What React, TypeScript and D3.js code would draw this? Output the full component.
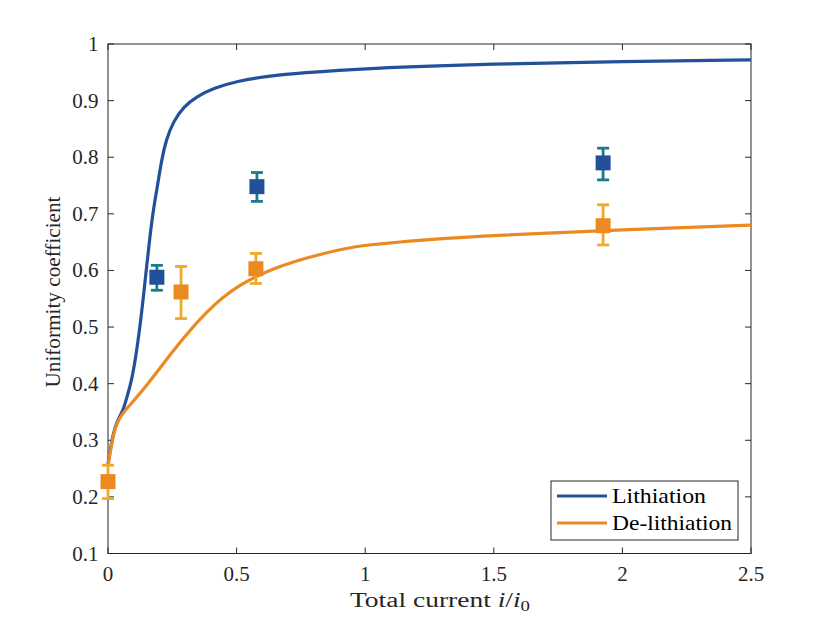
import React from "react";
import * as d3 from "d3";

const xTicks = [0, 0.5, 1, 1.5, 2, 2.5];
const xTickLabels = ["0", "0.5", "1", "1.5", "2", "2.5"];
const yTicks = [0.1, 0.2, 0.3, 0.4, 0.5, 0.6, 0.7, 0.8, 0.9, 1];
const yTickLabels = ["0.1", "0.2", "0.3", "0.4", "0.5", "0.6", "0.7", "0.8", "0.9", "1"];

const lithCurveX = [0, 0.021, 0.04, 0.05, 0.06, 0.075, 0.092, 0.108, 0.124, 0.137, 0.15, 0.163, 0.176, 0.188, 0.196, 0.209, 0.226, 0.254, 0.293, 0.345, 0.41, 0.507, 0.62, 0.75, 1, 1.5, 2, 2.5];
const lithCurveY = [0.258, 0.317, 0.337, 0.346, 0.355, 0.378, 0.406, 0.447, 0.5, 0.55, 0.606, 0.66, 0.706, 0.738, 0.76, 0.796, 0.831, 0.863, 0.889, 0.907, 0.922, 0.935, 0.943, 0.949, 0.957, 0.965, 0.969, 0.972];

const delithCurveX = [0, 0.02, 0.04, 0.08, 0.124, 0.19, 0.254, 0.384, 0.513, 0.656, 0.786, 0.9, 1, 1.25, 1.5, 2, 2.5];
const delithCurveY = [0.255, 0.31, 0.338, 0.36, 0.382, 0.42, 0.459, 0.53, 0.577, 0.606, 0.624, 0.637, 0.645, 0.655, 0.662, 0.672, 0.68];

const lithPtX = [0.19, 0.579, 1.925];
const lithPtY = [0.588, 0.748, 0.79];
const lithErrLo = [0.565, 0.722, 0.76];
const lithErrHi = [0.609, 0.773, 0.816];

const delithPtX = [0, 0.284, 0.575, 1.925];
const delithPtY = [0.227, 0.562, 0.603, 0.679];
const delithErrLo = [0.197, 0.515, 0.577, 0.645];
const delithErrHi = [0.256, 0.607, 0.63, 0.716];

const seriesNames = ["Lithiation", "De-lithiation"];

const BLUE = "#22509b";
const ORANGE = "#ec8a22";
const BLUE_ERR = "#1b7a8e";
const ORANGE_ERR = "#eeaa2a";
const AXIS = "#262626";
const FONT = "'Liberation Serif', 'DejaVu Serif', serif";

export default function App() {
  const W = 830, H = 622;
  const left = 108, right = 751, top = 44, bottom = 553.5;
  const x = d3.scaleLinear().domain([0, 2.5]).range([left, right]);
  const y = d3.scaleLinear().domain([0.1, 1]).range([bottom, top]);

  const line = d3.line<[number, number]>()
    .x((d) => x(d[0]))
    .y((d) => y(d[1]))
    .curve(d3.curveBasis);

  const lithPath = line(lithCurveX.map((v, i) => [v, lithCurveY[i]] as [number, number])) || "";
  const delithPath = line(delithCurveX.map((v, i) => [v, delithCurveY[i]] as [number, number])) || "";

  const tickLen = 6;
  const cap = 6;
  const ms = 15;

  const errBars = (xs: number[], lo: number[], hi: number[], color: string, key: string) =>
    xs.map((v, i) => {
      const cx = x(v);
      return (
        <g key={key + i} stroke={color} strokeWidth={2.8} fill="none">
          <line x1={cx} x2={cx} y1={y(lo[i])} y2={y(hi[i])} />
          <line x1={cx - cap} x2={cx + cap} y1={y(lo[i])} y2={y(lo[i])} />
          <line x1={cx - cap} x2={cx + cap} y1={y(hi[i])} y2={y(hi[i])} />
        </g>
      );
    });

  const markers = (xs: number[], ys: number[], color: string, key: string) =>
    xs.map((v, i) => (
      <rect key={key + i} x={x(v) - ms / 2} y={y(ys[i]) - ms / 2} width={ms} height={ms} fill={color} />
    ));

  return (
    <svg width={W} height={H} style={{ position: "absolute", left: 0, top: 0, background: "#fff" }} fontFamily={FONT}>
      <rect x={0} y={0} width={W} height={H} fill="#fff" />
      <rect x={left} y={top} width={right - left} height={bottom - top} fill="none" stroke={AXIS} strokeWidth={1} />
      {xTicks.map((t, i) => (
        <g key={"xt" + i} stroke={AXIS} strokeWidth={1}>
          <line x1={x(t)} x2={x(t)} y1={bottom} y2={bottom - tickLen} />
          <line x1={x(t)} x2={x(t)} y1={top} y2={top + tickLen} />
        </g>
      ))}
      {yTicks.map((t, i) => (
        <g key={"yt" + i} stroke={AXIS} strokeWidth={1}>
          <line x1={left} x2={left + tickLen} y1={y(t)} y2={y(t)} />
          <line x1={right} x2={right - tickLen} y1={y(t)} y2={y(t)} />
        </g>
      ))}
      {xTicks.map((t, i) => (
        <text key={"xl" + i} x={x(t)} y={580.5} textAnchor="middle" fontSize={21} fill={AXIS}>
          {xTickLabels[i]}
        </text>
      ))}
      {yTicks.map((t, i) => (
        <text key={"yl" + i} x={98.5} y={y(t) + 7} textAnchor="end" fontSize={21} fill={AXIS}>
          {yTickLabels[i]}
        </text>
      ))}
      <text x={350} y={607} fontSize={20.5} fill={AXIS} textLength={180} lengthAdjust="spacingAndGlyphs">
        Total current <tspan fontStyle="italic">i</tspan>/<tspan fontStyle="italic">i</tspan>
        <tspan fontSize={14} dy={4}>0</tspan>
      </text>
      <text transform={`translate(60,292) rotate(-90)`} textAnchor="middle" fontSize={20.5} fill={AXIS} textLength={191} lengthAdjust="spacingAndGlyphs">
        Uniformity coefficient
      </text>
      <path d={lithPath} fill="none" stroke={BLUE} strokeWidth={3.2} />
      <path d={delithPath} fill="none" stroke={ORANGE} strokeWidth={3.2} />
      {errBars(lithPtX, lithErrLo, lithErrHi, BLUE_ERR, "le")}
      {markers(lithPtX, lithPtY, BLUE, "lm")}
      {errBars(delithPtX, delithErrLo, delithErrHi, ORANGE_ERR, "de")}
      {markers(delithPtX, delithPtY, ORANGE, "dm")}
      <rect x={551} y={481} width={187} height={59} fill="#fff" stroke={AXIS} strokeWidth={1} />
      <line x1={557} x2={607} y1={496} y2={496} stroke={BLUE} strokeWidth={3.2} />
      <line x1={557} x2={607} y1={523} y2={523} stroke={ORANGE} strokeWidth={3.2} />
      <text x={612} y={502.5} fontSize={21} fill="#000" textLength={94} lengthAdjust="spacingAndGlyphs">{seriesNames[0]}</text>
      <text x={612} y={529.5} fontSize={21} fill="#000" textLength={120} lengthAdjust="spacingAndGlyphs">{seriesNames[1]}</text>
    </svg>
  );
}
